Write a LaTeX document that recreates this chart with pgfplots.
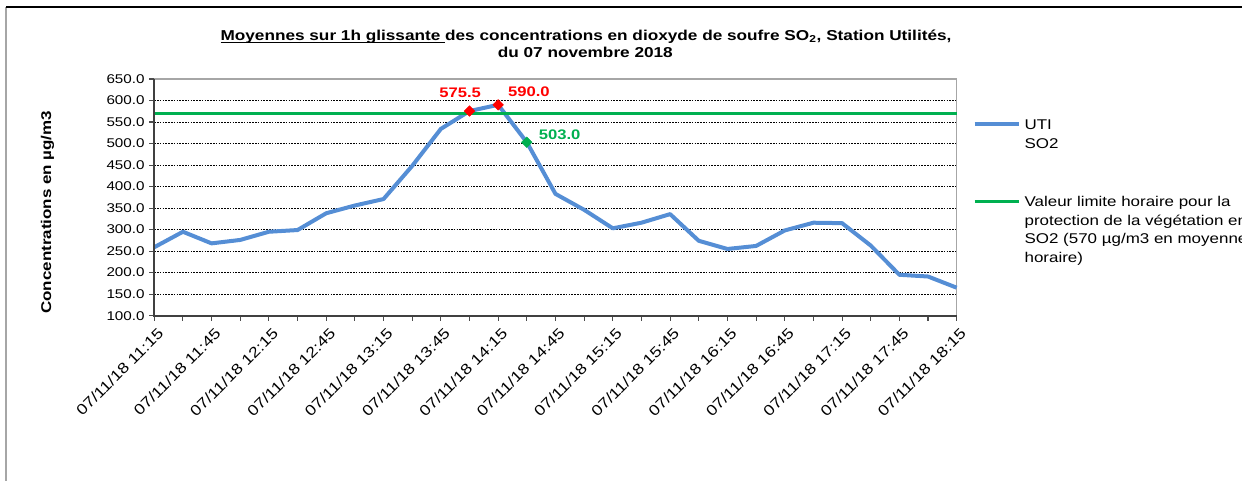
\documentclass[border=0pt]{standalone}
\usepackage{fontspec}
\setmainfont[FakeStretch=1.2]{Liberation Sans}
\usepackage{pgfplots}
\pgfplotsset{compat=1.18}
\definecolor{lineblue}{RGB}{85,142,213}
\definecolor{xlgreen}{RGB}{0,176,80}
\newcommand\myul[1]{\setbox0\hbox{#1}\rlap{\rule[-1.8pt]{\wd0}{0.8pt}}\box0}
\begin{document}
\begin{tikzpicture}
\useasboundingbox (0,0) rectangle (931.5pt,360.75pt);
\draw[gray!70, line width=1.2pt] (4.5pt,-2pt) -- (4.5pt,355.5pt);
\draw[black, line width=0.9pt] (4.5pt,355.5pt) -- (940pt,355.5pt);
\node[anchor=base, inner sep=0pt, font=\fontsize{10.75}{12}\selectfont\bfseries] at (439.5pt,330.5pt) {\myul{Moyennes sur 1h glissante }des concentrations en dioxyde de soufre SO\textsubscript{2}, Station Utilités,};
\node[anchor=base, inner sep=0pt, font=\fontsize{10.75}{12}\selectfont\bfseries] at (439pt,317.5pt) {du 07 novembre 2018};
\node[rotate=90, inner sep=0pt, font=\fontsize{10.6}{12}\selectfont\bfseries] at (35.6pt,201.5pt) {Concentrations en µg/m3};
\begin{axis}[
  at={(115.7pt,124pt)}, anchor=south west,
  scale only axis, width=601.8pt, height=177.5pt,
  xmin=0, xmax=28, ymin=100, ymax=650,
  xtick={0,2,...,28},
  minor xtick={1,3,...,27},
  xticklabels={07/11/18 11:15,07/11/18 11:45,07/11/18 12:15,07/11/18 12:45,07/11/18 13:15,07/11/18 13:45,07/11/18 14:15,07/11/18 14:45,07/11/18 15:15,07/11/18 15:45,07/11/18 16:15,07/11/18 16:45,07/11/18 17:15,07/11/18 17:45,07/11/18 18:15},
  ytick={100,150,...,650},
  xtick pos=bottom, ytick pos=left,
  tick align=outside,
  major tick length=3.75pt, minor tick length=3.75pt,
  tick style={black!70, line width=0.8pt},
  ymajorgrids,
  major grid style={black, line width=0.5pt, dash pattern=on 1.2pt off 0.9pt},
  axis line style={gray!70, line width=1.1pt},
  yticklabel style={font=\fontsize{9.5}{11}\selectfont, /pgf/number format/.cd, fixed, fixed zerofill, precision=1, assume math mode=true},
  xticklabel style={font=\fontsize{11.1}{13}\selectfont, rotate=45, anchor=east, inner sep=1pt, xshift=-1pt, yshift=-9pt},
  legend style={at={(1.0145,0.854)}, anchor=north west, draw=none, fill=none,
    font=\fontsize{10.6}{14}\selectfont, row sep=46.5pt, column sep=3pt,
    nodes={anchor=base west, inner sep=0pt, outer sep=0pt}},
  legend image code/.code={\draw[#1] (0pt,4pt) -- (33pt,4pt);},
  clip=false,
]
\addplot[lineblue, line width=3pt, line join=round, mark=none] coordinates {
(0,259) (1,295) (2,268) (3,276) (4,295) (5,299) (6,338) (7,356) (8,371) (9,448)
(10,534) (11,575.5) (12,590) (13,503) (14,383) (15,346) (16,303) (17,316) (18,336) (19,274)
(20,255) (21,262) (22,298) (23,316) (24,315) (25,263) (26,195) (27,191) (28,165)
};
\addlegendentry{\begin{tabular}[t]{@{}l@{}}UTI\\SO2\end{tabular}}
\addplot[xlgreen, line width=2.6pt, mark=none] coordinates {(0,570) (28,570)};
\addlegendentry{\begin{tabular}[t]{@{}l@{}}Valeur limite horaire pour la\\protection de la végétation en\\SO2 (570 µg/m3 en moyenne\\horaire)\end{tabular}}
\addplot[only marks, mark=square*, mark size=2.8pt, mark options={rotate=45, fill=red, draw=red}, forget plot] coordinates {(11,575.5) (12,590)};
\addplot[only marks, mark=square*, mark size=2.8pt, mark options={rotate=45, fill=xlgreen, draw=xlgreen}, forget plot] coordinates {(13,503)};
\draw[black!75, line width=1.4pt] (rel axis cs:0,1) -- (rel axis cs:0,0) -- (rel axis cs:1,0);
\node[anchor=base, text=red, font=\fontsize{10.4}{12}\selectfont\bfseries, xshift=-7pt, yshift=10.5pt] at (axis cs:11,575.5) {575.5};
\node[anchor=base, text=red, font=\fontsize{10.4}{12}\selectfont\bfseries, xshift=23pt, yshift=6pt] at (axis cs:12,590) {590.0};
\node[anchor=base, text=xlgreen, font=\fontsize{10.4}{12}\selectfont\bfseries, xshift=24.6pt, yshift=1.7pt] at (axis cs:13,503) {503.0};
\end{axis}
\end{tikzpicture}
\end{document}
